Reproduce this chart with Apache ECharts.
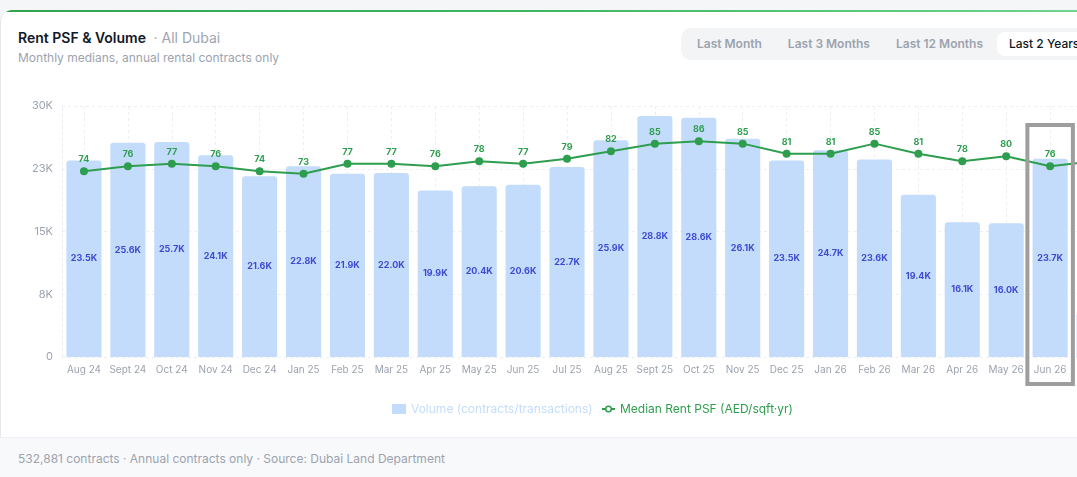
<!DOCTYPE html>
<html><head><meta charset="utf-8">
<script src="https://cdn.jsdelivr.net/npm/echarts@6/dist/echarts.min.js"></script>
<style>
html,body{margin:0;padding:0;width:1077px;height:477px;overflow:hidden;background:#f5f6f8;font-family:Inter,"Noto Sans",sans-serif;}
#card{position:absolute;left:0;top:10px;width:1240px;height:520px;background:#fff;border-radius:12px;border-left:1px solid #e6e8ec;overflow:hidden;box-sizing:border-box}
#topline{position:absolute;left:0;top:0;width:100%;height:2px;background:linear-gradient(90deg,#2ea44f,#3fb862 45%,#7edd9c 100%)}
#title{position:absolute;left:18px;top:28px;font-size:14px;font-weight:600;color:#111827;white-space:nowrap;line-height:20px}
#title span{font-weight:400;color:#a0a5b0;margin-left:4px}
#sub{position:absolute;left:18px;top:50px;font-size:12px;color:#9ca3af;line-height:16px;white-space:nowrap}
#tabs{position:absolute;left:681px;top:28px;height:32px;padding:0 4px;background:#f3f4f6;border-radius:10px;display:flex;align-items:center;gap:2px;white-space:nowrap}
.tab{font-size:12px;font-weight:600;color:#9ca3af;padding:0 12px;height:24px;line-height:24px;border-radius:8px}
.tab.on{background:#fff;color:#111827;font-weight:500}
#chart{position:absolute;left:0;top:82px;width:1184px;height:355px}
#footer{position:absolute;left:0;top:437px;width:1240px;height:60px;background:#f8f9fb;border-top:1px solid #eef0f3;box-sizing:border-box;border-radius:0 0 0 12px}
#footer div{position:absolute;left:18px;top:13px;font-size:12px;color:#9ca3af;line-height:16px;white-space:nowrap}
</style></head>
<body>
<div id="card"><div id="topline"></div></div>
<div id="title">Rent PSF &amp; Volume <span>· All Dubai</span></div>
<div id="sub">Monthly medians, annual rental contracts only</div>
<div id="tabs"><div class="tab">Last Month</div><div class="tab">Last 3 Months</div><div class="tab">Last 12 Months</div><div class="tab on">Last 2 Years</div></div>
<div id="chart"></div>
<div id="footer"><div>532,881 contracts · Annual contracts only · Source: Dubai Land Department</div></div>
<script>
const categories = ['Aug 24','Sept 24','Oct 24','Nov 24','Dec 24','Jan 25','Feb 25','Mar 25','Apr 25','May 25','Jun 25','Jul 25','Aug 25','Sept 25','Oct 25','Nov 25','Dec 25','Jan 26','Feb 26','Mar 26','Apr 26','May 26','Jun 26','Jul 26'];
const volume = [23500,25600,25700,24100,21600,22800,21900,22000,19900,20400,20600,22700,25900,28800,28600,26100,23500,24700,23600,19400,16100,16000,23700,5300];
const rentPsf = [74,76,77,76,74,73,77,77,76,78,77,79,82,85,86,85,81,81,85,81,78,80,76,78];
const volumeTickLabels = ['0','8K','15K','23K','30K'];
const volumeMax = 30000;
const volumeStep = 7500;
const psfMax = 100;
const highlighted = 'Jun 26';
const volName = 'Volume (contracts/transactions)';
const psfName = 'Median Rent PSF (AED/sqft·yr)';

const chart = echarts.init(document.getElementById('chart'), null, {renderer:'canvas'});
const option = {
  animation:false,
  textStyle:{fontFamily:'Inter, "Noto Sans", sans-serif'},
  grid:{left:62,right:68,top:24,bottom:80,containLabel:false},
  legend:[{
    left:387, top:316, itemWidth:14, itemHeight:10,
    textStyle:{fontSize:12},
    data:[{name:volName, icon:'rect', textStyle:{color:'#c4dcfb'}}]
  },{
    left:596, top:316, itemWidth:13, itemHeight:7,
    textStyle:{fontSize:12},
    data:[{name:psfName, textStyle:{color:'#2e9e4e'},
       itemStyle:{color:'#ffffff', borderColor:'#2e9e4e', borderWidth:1.5}}]
  }],
  xAxis:{
    type:'category', data:categories,
    axisLine:{show:false}, axisTick:{show:false},
    axisLabel:{color:'#9ca3af', fontSize:10, margin:8, interval:0},
    splitLine:{show:true, alignWithLabel:true, lineStyle:{color:'#eceef1', type:[3,3], width:1}}
  },
  yAxis:[{
    type:'value', min:0, max:volumeMax, interval:volumeStep,
    axisLine:{show:true, lineStyle:{color:'#eceef1', type:[3,3]}}, axisTick:{show:false},
    axisLabel:{color:'#9ca3af', fontSize:11, margin:9, formatter:v=>volumeTickLabels[Math.round(v/volumeStep)]},
    splitLine:{lineStyle:{color:'#eceef1', type:[3,3]}}
  },{
    type:'value', min:0, max:psfMax, show:false, splitLine:{show:false}
  }],
  series:[{
    name:volName, type:'bar', data:volume, yAxisIndex:0,
    barWidth:'80%',
    itemStyle:{color:'#c4dcfb', borderRadius:[3,3,0,0]},
    label:{show:true, position:'inside', color:'#3b4bd0', fontSize:9, fontWeight:'bold',
      formatter:p=>(p.value/1000).toFixed(1)+'K'}
  },{
    name:psfName, type:'line', data:rentPsf, yAxisIndex:1,
    symbol:'circle', symbolSize:8, z:5,
    lineStyle:{color:'#2e9e4e', width:2},
    itemStyle:{color:'#2e9e4e'},
    label:{show:true, position:'top', distance:3, color:'#2e9e4e', fontSize:9, fontWeight:'bold'}
  }]
};
chart.setOption(option);
const cx = chart.convertToPixel({xAxisIndex:0}, highlighted);
const rectW = 45.5;
chart.setOption({graphic:[{
  type:'rect', z:100,
  shape:{x:cx-rectW/2, y:43, width:rectW, height:259},
  style:{fill:'none', stroke:'#9e9e9e', lineWidth:4}
}]});
</script>
</body></html>
